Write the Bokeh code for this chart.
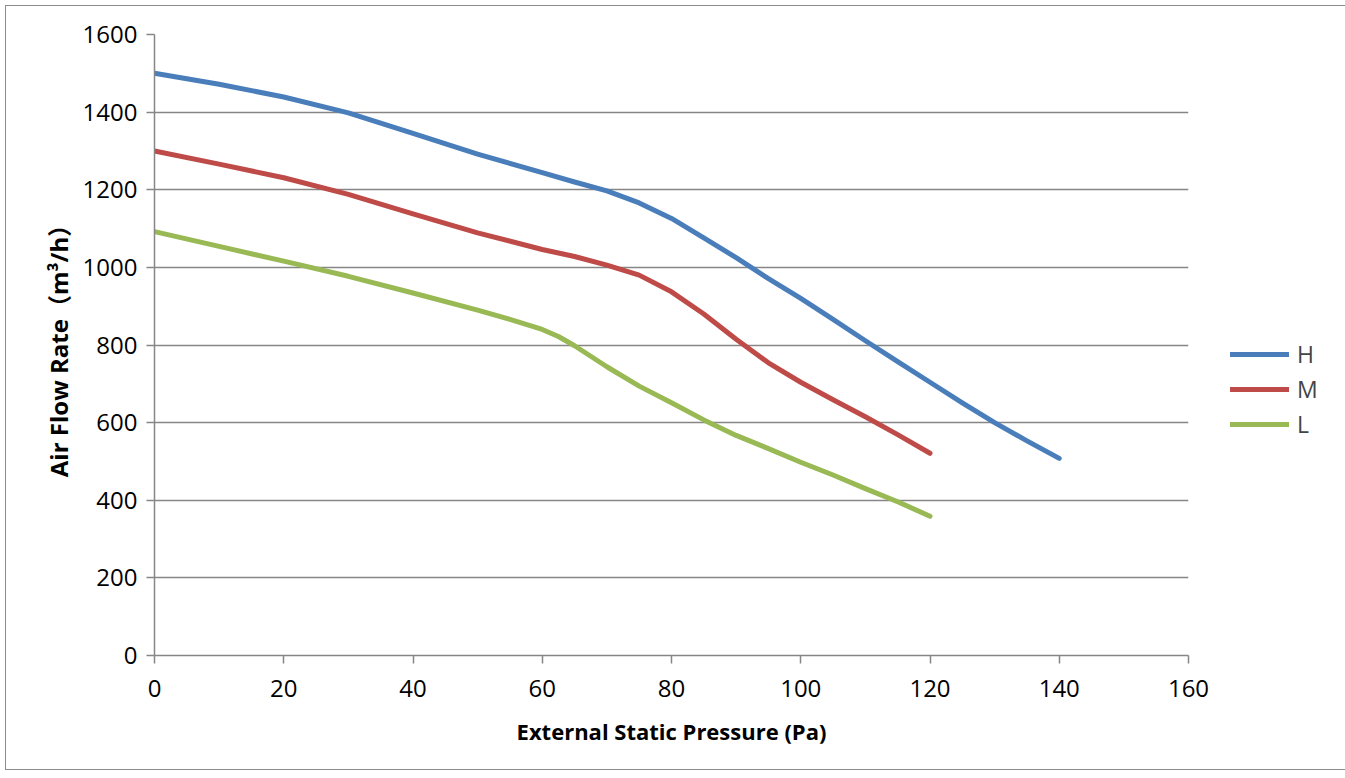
from bokeh.plotting import figure
from bokeh.models import Range1d, Legend, LegendItem, FixedTicker
from bokeh.embed import file_html
from bokeh.resources import INLINE

# Data
pressure_h = [0, 10, 20, 30, 40, 50, 60, 65, 70, 75, 80, 85, 90, 95, 100, 105, 110, 115, 120, 125, 130, 135, 140]
flow_h = [1500, 1472, 1439, 1398, 1345, 1292, 1244, 1220, 1197, 1166, 1126, 1076, 1025, 971, 920, 866, 811, 757, 704, 651, 600, 553, 508]

pressure_m = [0, 10, 20, 30, 40, 50, 60, 65, 70, 75, 80, 85, 90, 95, 100, 105, 110, 115, 120]
flow_m = [1300, 1266, 1231, 1188, 1138, 1089, 1046, 1028, 1006, 980, 937, 880, 815, 754, 704, 659, 615, 569, 521]

pressure_l = [0, 10, 20, 30, 40, 50, 55, 60, 62.5, 65, 70, 75, 80, 85, 90, 95, 100, 105, 110, 115, 120]
flow_l = [1092, 1054, 1016, 977, 934, 890, 866, 840, 822, 798, 744, 694, 651, 607, 567, 533, 498, 465, 430, 396, 359]

series_names = ["H", "M", "L"]
colors = ["#4A7EBB", "#BE4B48", "#98B954"]

x_ticks = [0, 20, 40, 60, 80, 100, 120, 140, 160]
y_ticks = [0, 200, 400, 600, 800, 1000, 1200, 1400, 1600]

FONT = "Open Sans"
GRAY = "#868686"

p = figure(frame_width=1034, frame_height=621, output_backend="svg", toolbar_location=None,
           x_range=Range1d(0, 160), y_range=Range1d(0, 1600),
           min_border_left=148, min_border_top=28, min_border_bottom=114, min_border_right=148)
p.margin = (6, 0, 0, 6)
p.styles = {"outline": "1px solid #8c8c8c"}
p.outline_line_color = None
p.background_fill_color = "white"

p.xaxis.ticker = FixedTicker(ticks=x_ticks)
p.yaxis.ticker = FixedTicker(ticks=y_ticks)
for ax in (p.xaxis[0], p.yaxis[0]):
    ax.axis_line_color = GRAY
    ax.axis_line_width = 1.5
    ax.major_tick_line_color = GRAY
    ax.major_tick_line_width = 1.5
    ax.major_tick_in = 0
    ax.major_tick_out = 8
    ax.minor_tick_line_color = None
    ax.major_label_text_font = FONT
    ax.major_label_text_font_size = "24px"
    ax.major_label_text_color = "black"
    ax.axis_label_text_font = FONT
    ax.axis_label_text_font_style = "bold"
    ax.axis_label_text_font_size = "22px"
    ax.axis_label_text_color = "black"

p.xaxis.axis_label = "External Static Pressure (Pa)"
p.yaxis.axis_label = "Air Flow Rate（m³/h）"
p.xaxis.major_label_standoff = 16
p.yaxis.major_label_standoff = 9
p.xaxis.axis_label_standoff = 16
p.yaxis.axis_label_standoff = 5
p.yaxis.axis_label_text_font = "Open Sans, Noto Sans CJK SC"
p.yaxis.axis_label_text_font_size = "24px"

p.xgrid.grid_line_color = None
p.ygrid.grid_line_color = GRAY
p.ygrid.grid_line_width = 1.5

xs = [pressure_h, pressure_m, pressure_l]
ys = [flow_h, flow_m, flow_l]
items = []
for name, c, x, y in zip(series_names, colors, xs, ys):
    r = p.line(x, y, line_color=c, line_width=5, line_cap="round", line_join="round")
    items.append(LegendItem(label=name, renderers=[r]))

legend = Legend(items=items, location=(42, 215))
legend.glyph_width = 59
legend.glyph_height = 20
legend.label_text_font = FONT
legend.label_text_font_size = "23px"
legend.label_standoff = 8
legend.spacing = 3
legend.border_line_color = None
legend.background_fill_alpha = 0
legend.margin = 0
legend.padding = 4
p.add_layout(legend, "right")

open("out.html", "w").write(file_html(p, INLINE))
